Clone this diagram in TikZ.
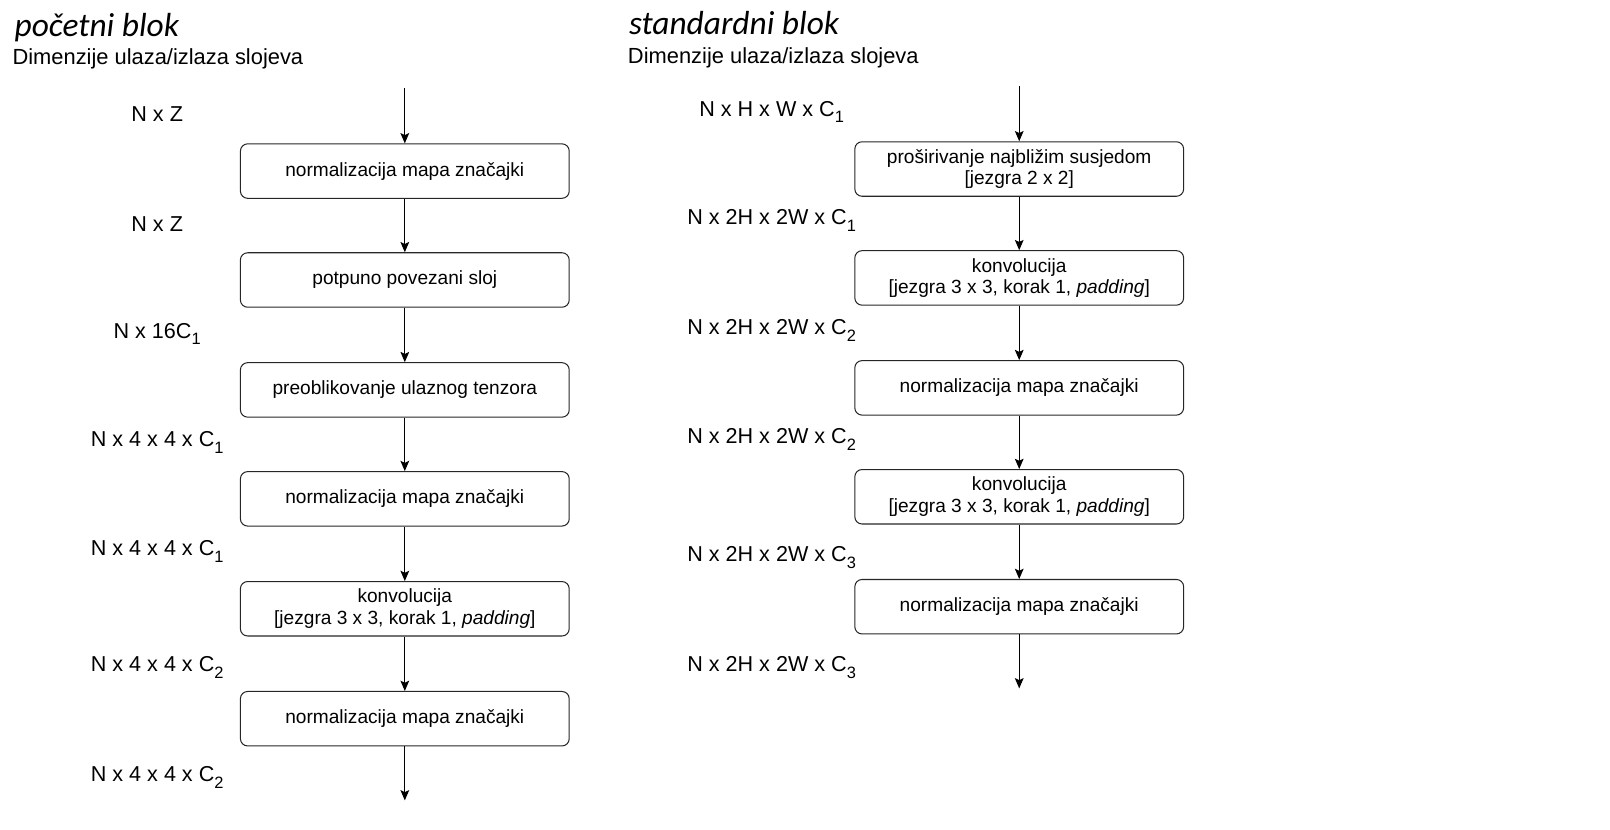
\documentclass[tikz,border=0pt]{standalone}
\usepackage{fontspec}
\setmainfont{Liberation Sans}
\newfontfamily\titlefont{Carlito}
\usetikzlibrary{arrows.meta}
\newcommand{\subidx}[1]{\raisebox{-0.32em}{\fontsize{16}{16}\selectfont #1}}
\begin{document}
\begin{tikzpicture}[x=1pt,y=-1pt,
  blk/.style={draw=black!85, line width=1pt, rounded corners=7pt, minimum width=320pt, minimum height=53pt, align=center, font=\fontsize{18.6}{21}\selectfont, inner sep=0pt},
  dim/.style={font=\fontsize{21}{25}\selectfont, anchor=center},
  flow/.style={-{Stealth[length=10pt,width=8.5pt,inset=2pt]}, line width=1pt},
  ttl/.style={font=\titlefont\itshape\fontsize{32.5}{38}\selectfont, anchor=base west, inner sep=0pt},
  sub/.style={font=\fontsize{21.3}{25}\selectfont, anchor=base west, inner sep=0pt}]
\useasboundingbox (0,0) rectangle (1567,807);
% titles
\node[ttl] (t1) at (14,36) {početni blok};
\node[sub] (s1) at (12,63) {Dimenzije ulaza/izlaza slojeva};
\node[ttl] (t2) at (612,34) {standardni blok};
\node[sub] (s2) at (611,61.5) {Dimenzije ulaza/izlaza slojeva};
% left column
\coordinate (lin) at (394,86);
\node[blk] (a1) at (394,166.5) {normalizacija mapa značajki};
\node[blk] (a2) at (394,272.5) {potpuno povezani sloj};
\node[blk] (a3) at (394,379.5) {preoblikovanje ulaznog tenzora};
\node[blk] (a4) at (394,485.5) {normalizacija mapa značajki};
\node[blk] (a5) at (394,592.5) {konvolucija\\{}[jezgra 3 x 3, korak 1, \textit{padding}]};
\node[blk] (a6) at (394,699.5) {normalizacija mapa značajki};
\coordinate (lout) at (394,779);
\draw[flow] (lin) -- (a1);
\draw[flow] (a1) -- (a2);
\draw[flow] (a2) -- (a3);
\draw[flow] (a3) -- (a4);
\draw[flow] (a4) -- (a5);
\draw[flow] (a5) -- (a6);
\draw[flow] (a6) -- (lout);
\node[dim] (d1) at (153,111) {N x Z};
\node[dim] (d2) at (153,218) {N x Z};
\node[dim] (d3) at (153,325) {N x 16C\subidx{1}};
\node[dim] (d4) at (153,431) {N x 4 x 4 x C\subidx{1}};
\node[dim] (d5) at (153,537) {N x 4 x 4 x C\subidx{1}};
\node[dim] (d6) at (153,650) {N x 4 x 4 x C\subidx{2}};
\node[dim] (d7) at (153,757) {N x 4 x 4 x C\subidx{2}};
% right column
\coordinate (rin) at (992,84);
\node[blk] (b1) at (992,164.5) {proširivanje najbližim susjedom\\{}[jezgra 2 x 2]};
\node[blk] (b2) at (992,270.5) {konvolucija\\{}[jezgra 3 x 3, korak 1, \textit{padding}]};
\node[blk] (b3) at (992,377.5) {normalizacija mapa značajki};
\node[blk] (b4) at (992,483.5) {konvolucija\\{}[jezgra 3 x 3, korak 1, \textit{padding}]};
\node[blk] (b5) at (992,590.5) {normalizacija mapa značajki};
\coordinate (rout) at (992,670);
\draw[flow] (rin) -- (b1);
\draw[flow] (b1) -- (b2);
\draw[flow] (b2) -- (b3);
\draw[flow] (b3) -- (b4);
\draw[flow] (b4) -- (b5);
\draw[flow] (b5) -- (rout);
\node[dim] (e1) at (751,109) {N x H x W x C\subidx{1}};
\node[dim] (e2) at (751,215) {N x 2H x 2W x C\subidx{1}};
\node[dim] (e3) at (751,322) {N x 2H x 2W x C\subidx{2}};
\node[dim] (e4) at (751,428) {N x 2H x 2W x C\subidx{2}};
\node[dim] (e5) at (751,543) {N x 2H x 2W x C\subidx{3}};
\node[dim] (e6) at (751,650) {N x 2H x 2W x C\subidx{3}};
\end{tikzpicture}
\end{document}
